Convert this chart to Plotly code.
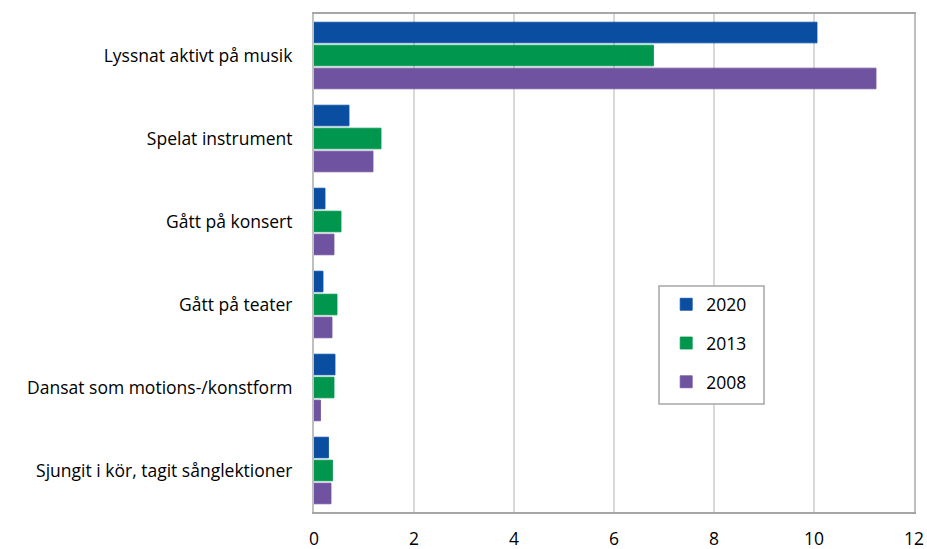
import plotly.graph_objects as go

categories = [
    "Lyssnat aktivt på musik",
    "Spelat instrument",
    "Gått på konsert",
    "Gått på teater",
    "Dansat som motions-/konstform",
    "Sjungit i kör, tagit sånglektioner",
]
years = ["2020", "2013", "2008"]
values_2020 = [10.06, 0.70, 0.22, 0.18, 0.42, 0.29]
values_2013 = [6.79, 1.34, 0.54, 0.46, 0.40, 0.37]
values_2008 = [11.24, 1.18, 0.40, 0.36, 0.13, 0.34]
x_ticks = [0, 2, 4, 6, 8, 10, 12]

colors = ["#0a4ea2", "#00964e", "#6f53a0"]
series = [values_2020, values_2013, values_2008]

fig = go.Figure()
for name, vals, col in zip(years, series, colors):
    fig.add_trace(go.Bar(
        y=categories, x=vals, name=name, orientation="h",
        marker=dict(color=col, line=dict(color=col, width=0.8)),
        legendgroup=name,
    ))

# legend frame
fig.add_shape(type="rect", xref="paper", yref="paper",
              x0=0.575, x1=0.75, y0=0.217, y1=0.454,
              line=dict(color="#a6a6a6", width=1.5), fillcolor="white",
              layer="above")

font_family = "'Open Sans', 'Noto Sans', sans-serif"
fig.update_layout(
    width=927, height=549,
    margin=dict(l=314, r=13, t=14, b=37, autoexpand=False),
    paper_bgcolor="white", plot_bgcolor="white",
    barmode="group", bargap=0.17, bargroupgap=0.1,
    font=dict(family=font_family, size=17.5, color="#000000"),
    showlegend=True,
    legend=dict(
        x=0.587, y=0.453, xanchor="left", yanchor="top",
        bgcolor="rgba(0,0,0,0)", borderwidth=0,
        font=dict(size=17.5), tracegroupgap=13, traceorder="grouped",
        itemwidth=30,
    ),
    xaxis=dict(
        range=[0, 12], tickvals=x_ticks, ticktext=[str(t) for t in x_ticks],
        showgrid=True, gridcolor="#d9d9d9", gridwidth=1.5,
        showline=True, linecolor="#a6a6a6", linewidth=1.5, mirror=True,
        zeroline=False, ticks="", ticklabelstandoff=10,
        fixedrange=True, automargin=False,
    ),
    yaxis=dict(
        autorange="reversed",
        showline=True, linecolor="#bfbfbf", linewidth=2, mirror=True,
        showgrid=False, ticks="", ticklabelstandoff=16, automargin=False,
        fixedrange=True,
    ),
)

fig.write_html("out.html", config={"displayModeBar": False},
               post_script="document.body.style.margin='0';")
